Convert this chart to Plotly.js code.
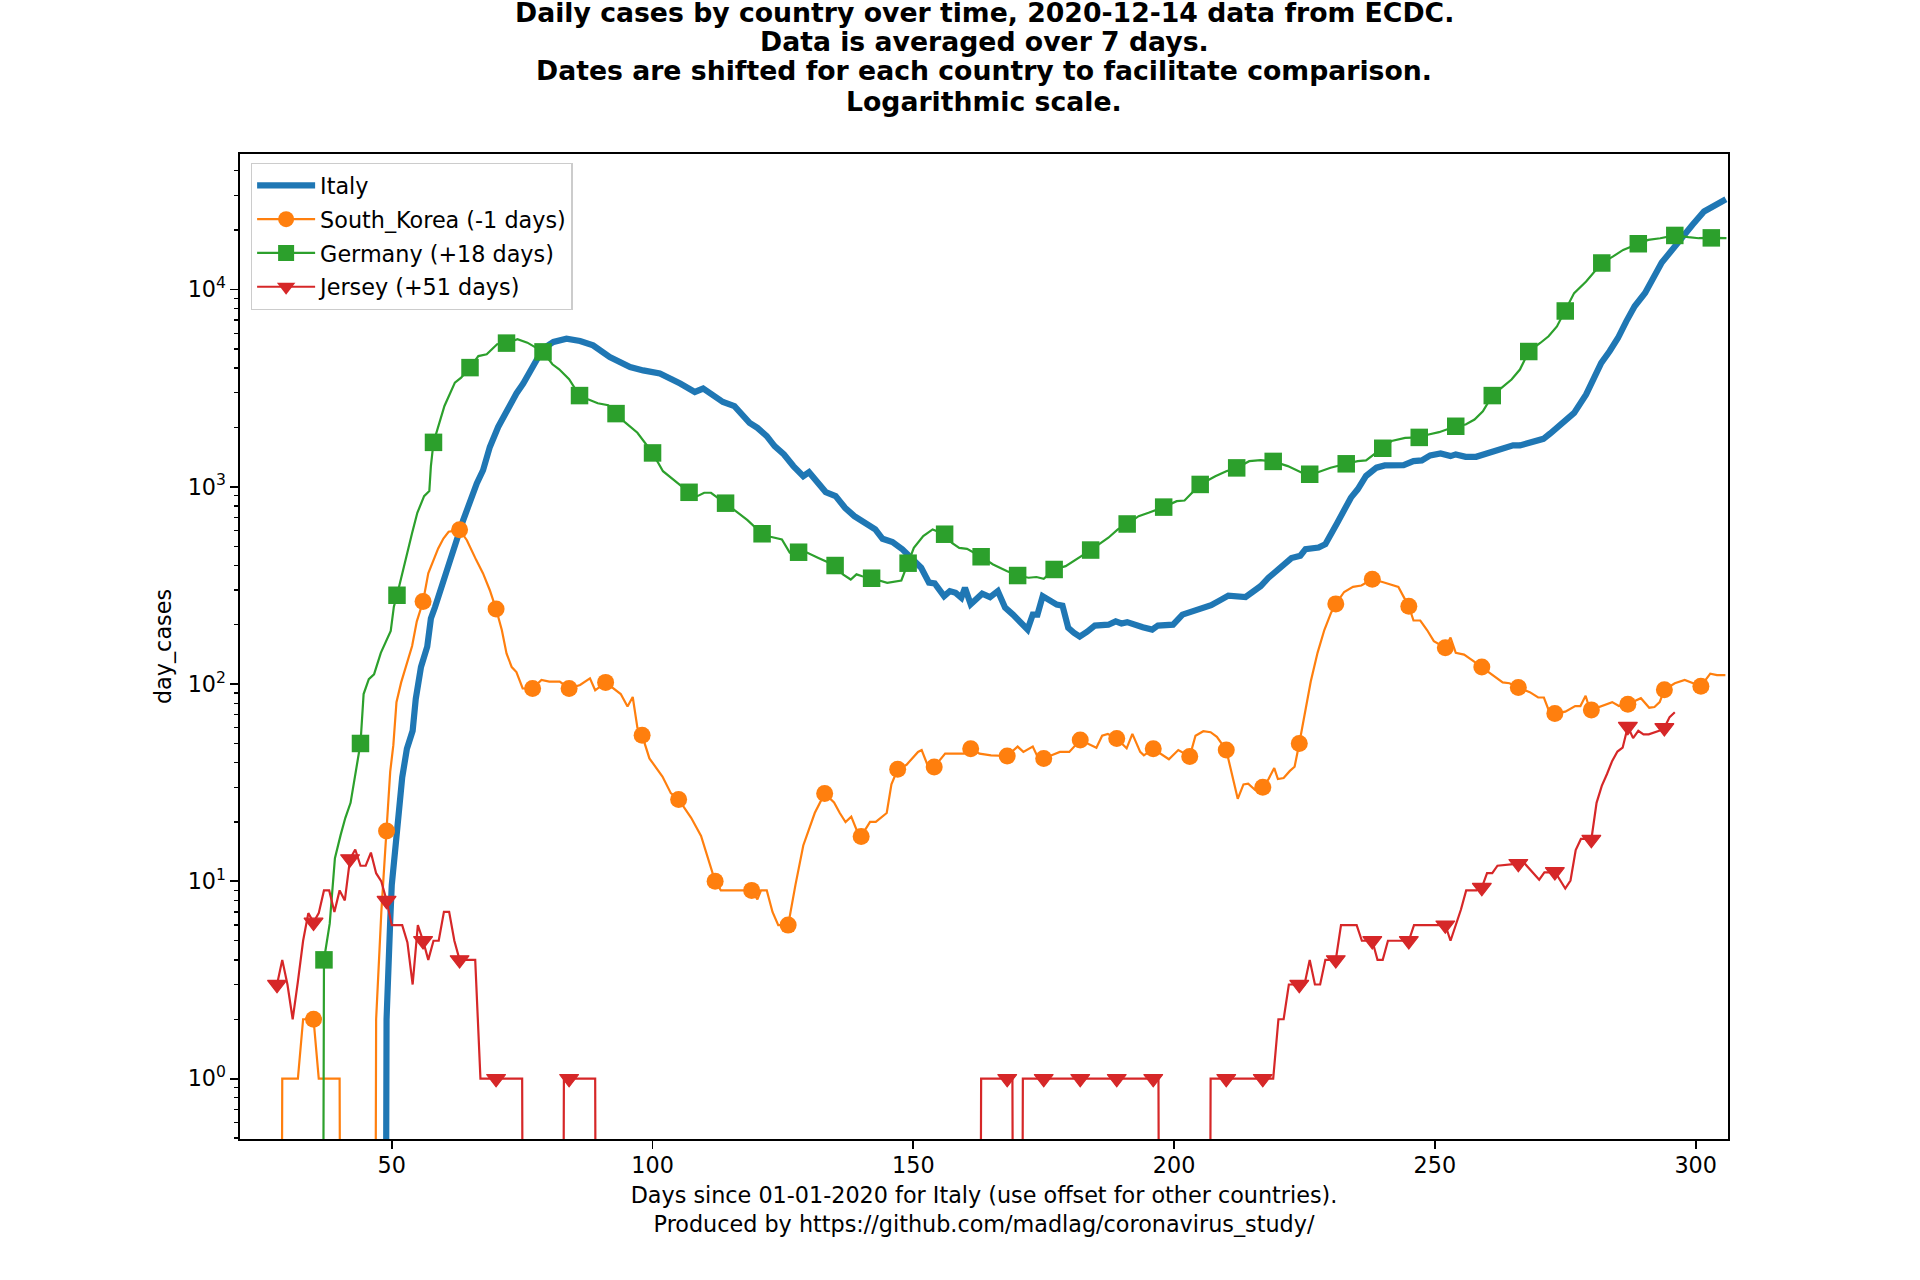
<!DOCTYPE html>
<html>
<head>
<meta charset="utf-8">
<script src="https://cdn.plot.ly/plotly-3.0.1.min.js"></script>
<style>html,body{margin:0;padding:0;background:#ffffff;}</style>
</head>
<body>
<div id="chart" style="width:1920px;height:1280px;"></div>
<script>
// ---------------- data ----------------
const titleLines = [
  "Daily cases by country over time, 2020-12-14 data from ECDC.",
  "Data is averaged over 7 days.",
  "Dates are shifted for each country to facilitate comparison.",
  "Logarithmic scale."
];
const xTitleLines = [
  "Days since 01-01-2020 for Italy (use offset for other countries).",
  "Produced by https://github.com/madlag/coronavirus_study/"
];
const yTitle = "day_cases";
const seriesNames = ["Italy", "South_Korea (-1 days)", "Germany (+18 days)", "Jersey (+51 days)"];
const xTickVals = [50, 100, 150, 200, 250, 300];
const yTickVals = [1, 10, 100, 1000, 10000];
const yTickText = ["10<sup>0</sup>", "10<sup>1</sup>", "10<sup>2</sup>", "10<sup>3</sup>", "10<sup>4</sup>"];

const italyDays = [48, 49, 49.7, 50, 50.8, 51.4, 52, 52.9, 54, 54.6,
  55.6, 56.8, 57.5, 58.3, 59.9, 61.2, 63.7, 65.3, 66.3, 67.5,
  68.8, 70.4, 71.4, 72.2, 73.9, 75.2, 76.5, 77.8, 79, 81,
  83.5, 86.1, 88.6, 91.8, 95.7, 98.2, 101.4, 105.3, 108.1, 109.7,
  111.6, 113.5, 115.7, 117.1, 118.6, 120.1, 121.9, 123.4, 125.2, 127,
  128.9, 130, 131.4, 133.2, 135.1, 136.9, 138.7, 140.6, 142.7, 144.1,
  146, 147.9, 149.7, 151.5, 153, 154.1, 155.9, 157, 158.1, 159.2,
  159.9, 161, 163.2, 164.7, 166.2, 167.6, 169.1, 170.2, 171.9, 172.9,
  173.8, 174.8, 176, 177.5, 178.6, 179.7, 180.8, 181.9, 183.3, 184.8,
  187.4, 188.8, 189.9, 191, 194, 195.8, 196.9, 199.8, 201.6, 203.5,
  205.3, 207.1, 208.6, 210.4, 213.7, 215.2, 216.6, 218.1, 219.6, 221,
  222.5, 224.2, 225.2, 227.7, 229, 231.3, 232.9, 233.9, 235.2, 236.8,
  238.8, 240.4, 244, 245.9, 247.5, 249.1, 251.1, 253, 254, 255.9,
  257.9, 259.2, 261.1, 262.4, 265, 266.3, 268.3, 270.8, 272.1, 274.1,
  276.7, 279, 280.6, 281.9, 283.5, 285.1, 286.7, 288.3, 290.3, 291.9,
  293.5, 295.5, 297.4, 299.4, 301.6, 303.3, 305.8];
const italyCases = [0, 2, 6.3, 9.6, 15.8, 24, 33.6, 47, 58, 84,
  122, 155, 215, 246, 324, 425, 678, 889, 1040, 1213,
  1592, 2011, 2259, 2443, 2972, 3337, 3822, 4467, 5012, 5420,
  5636, 5480, 5210, 4550, 4045, 3890, 3750, 3337, 3026, 3148,
  2911, 2692, 2564, 2328, 2111, 1991, 1806, 1607, 1459, 1274,
  1133, 1186, 1069, 940, 897, 783, 710, 662, 608, 545,
  525, 482, 437, 389, 327, 324, 279, 296, 290, 274,
  308, 254, 287, 276, 296, 244, 225, 208, 189, 225,
  225, 279, 266, 253, 250, 193, 182, 174, 184, 198,
  200, 208, 203, 206, 194, 189, 198, 200, 225, 234,
  241, 251, 264, 281, 276, 292, 314, 346, 374, 400,
  435, 447, 483, 492, 512, 658, 783, 881, 971, 1135,
  1250, 1283, 1288, 1350, 1361, 1442, 1476, 1431, 1460, 1419,
  1419, 1459, 1500, 1560, 1622, 1622, 1672, 1750, 1863, 2069,
  2370, 2939, 3633, 4245, 4866, 5678, 6898, 8220, 9600, 11650,
  13700, 15900, 18570, 21280, 24850, 26550, 28700];

const koreaDays = [28, 29, 32, 33, 35, 36, 40, 41, 46, 47,
  48, 49, 49.7, 50.3, 50.9, 51.8, 52.8, 53.9, 54.8, 56,
  57, 58, 58.9, 59.9, 60.9, 63, 64.4, 66.2, 67.5, 68.8,
  70, 71.1, 72, 73, 73.9, 75.1, 77, 78.7, 80.2, 82.2,
  84, 86.1, 88, 89, 91, 93.9, 95.2, 96.2, 97.1, 98,
  99.4, 101.9, 103.5, 105, 107.4, 109.3, 110.5, 112, 113.1, 116.4,
  119, 120.1, 120.8, 121.9, 123, 124.1, 126, 127.4, 128.9, 131.1,
  132.2, 133, 134.8, 135.9, 137, 138.1, 139.2, 140, 141.7, 142.8,
  144.9, 145.8, 147, 148.7, 150.9, 151.6, 152.7, 154, 156.1, 159.7,
  161, 162.7, 164.9, 168, 170, 171.1, 172.9, 173.7, 175, 178.1,
  179.9, 182, 185.1, 186.2, 187.3, 189, 190.9, 192, 193.5, 194.2,
  196, 199, 200.8, 203, 204.1, 205.6, 207, 208.2, 210, 212.2,
  213.3, 214.2, 215.5, 217, 218.1, 219.2, 219.9, 221, 222.2, 223.1,
  224, 225.2, 226.2, 227.5, 228.8, 230.1, 231, 232.6, 234.3, 235.9,
  238, 240.1, 243, 244.3, 245, 245.9, 247.2, 248.5, 249.8, 252,
  253, 254, 255.6, 257.2, 259, 261.1, 263, 264.3, 266, 268.2,
  269.8, 270.9, 271.8, 273, 275, 276.9, 277.9, 278.9, 279.5, 280,
  282.1, 284, 285.3, 287, 289.5, 291.1, 292.1, 293.1, 294, 296,
  297.9, 301, 302.8, 304.1, 305.7];
const koreaCases = [0, 1, 1, 2, 2, 1, 1, 0, 0, 2,
  7, 18, 36, 49, 81, 102, 125, 156, 208, 262,
  364, 425, 487, 547, 592, 605, 536, 425, 364, 299,
  240, 188, 143, 122, 115, 95, 95, 105, 103, 103,
  95, 99, 107, 93, 102, 89, 77, 86, 60, 55,
  42, 34, 28, 26, 21, 17, 13.4, 10, 9, 9,
  9, 8.1, 9, 9, 7, 6, 6, 9.6, 15.2, 22.2,
  25.2, 27.9, 25.1, 22.2, 20, 21.3, 18, 16.9, 20, 20,
  22.2, 31, 37, 39, 45.3, 46.3, 39, 38, 44.4, 44.4,
  47, 44.4, 43.5, 43.2, 48.2, 45.3, 48.2, 43.5, 42, 45.3,
  45.3, 52, 47.6, 54.7, 55.9, 53, 47.2, 55.9, 45.3, 43.5,
  47, 41.6, 46.3, 43, 54.7, 57.7, 57, 54, 46.3, 26.2,
  31, 31.3, 29.1, 30, 33, 37.5, 33, 33.4, 36.3, 38.1,
  50, 74, 103, 144, 188, 230, 255, 293, 311, 316,
  340, 328, 311, 268, 248, 210, 210, 188, 165, 153,
  172, 144, 141, 132, 122, 111, 102, 101, 96, 91,
  85.5, 85.5, 74, 71, 72.5, 77.4, 77.4, 87.3, 77.4, 74,
  77.4, 81, 77.4, 79, 84.8, 75.9, 76.5, 81, 93.5, 101,
  105, 97.5, 113, 111, 111];

const germanyDays = [36, 37, 38.1, 39.1, 40.2, 41.1, 42.1, 43, 44, 44.6,
  45.6, 46.6, 47.9, 49.8, 50.4, 51, 52.3, 53.9, 54.9, 56.2,
  57.2, 57.5, 58, 59.1, 60.1, 62.1, 63.3, 65, 66.6, 68.2,
  70.2, 72, 74.1, 76, 79, 80.8, 82.1, 84, 86, 87.6,
  89.5, 91.5, 93, 94.8, 97.1, 100, 102, 104.3, 107, 108.6,
  109.9, 111.2, 114, 116.4, 118.2, 120.1, 121, 122.6, 124.8, 126.3,
  128, 129.6, 131.8, 135, 136.5, 138, 139.1, 140.2, 142, 145,
  147.7, 149, 150.1, 151.9, 153.7, 156, 157.4, 158.8, 160.3, 163,
  165.3, 167.9, 170, 172.1, 173.6, 175, 177, 179.2, 181.8, 184,
  187.4, 189.2, 191, 193.2, 195.1, 198, 200.5, 202, 205, 207.9,
  210, 212, 214.4, 216.6, 219, 221.8, 224.5, 226, 227.7, 230,
  233, 235.2, 236.8, 240, 241.7, 244.3, 247, 248.8, 250.8, 254,
  255.9, 257.6, 259.2, 261, 262.7, 264.7, 266.3, 268, 270.2, 271.8,
  273.4, 275, 276.7, 279, 280.6, 282, 284.1, 286.1, 289, 290.9,
  293.2, 296, 298.6, 300.6, 303, 305.9];
const germanyCases = [0, 4, 6.1, 13.1, 17.2, 21, 25, 35, 50, 89,
  106, 112, 144, 186, 247, 282, 395, 584, 738, 897,
  951, 1274, 1680, 2113, 2570, 3375, 3575, 4020, 4600, 4700,
  5280, 5350, 5600, 5380, 4830, 4180, 3940, 3510, 2900, 2775,
  2650, 2590, 2350, 2113, 1880, 1485, 1200, 1070, 938, 897,
  933, 933, 826, 738, 678, 608, 578, 558, 541, 464,
  466, 464, 436, 399, 360, 339, 360, 352, 344, 326,
  335, 410, 490, 562, 608, 575, 520, 490, 485, 442,
  404, 374, 355, 346, 349, 342, 381, 396, 437, 478,
  552, 608, 648, 710, 738, 789, 846, 852, 1028, 1132,
  1200, 1247, 1349, 1364, 1345, 1273, 1178, 1158, 1189, 1250,
  1308, 1350, 1360, 1568, 1706, 1770, 1780, 1841, 1892, 2027,
  2070, 2194, 2415, 2900, 3171, 3497, 3929, 4850, 5358, 5791,
  6500, 7785, 9590, 10990, 12350, 13630, 14690, 15880, 17065, 17850,
  18200, 18800, 18420, 18200, 18275, 18200];

const jerseyDays = [28, 29, 30, 31, 32, 33, 34, 35, 36, 37,
  38, 39, 40, 41, 42, 43, 44, 45, 46, 47,
  48, 49, 50, 52, 53, 54, 55, 56, 57, 58,
  59, 60, 61, 62, 63, 64, 66, 67, 70, 75,
  76, 82, 83, 84, 89, 90, 162, 163, 168, 169,
  170, 171, 175, 182, 189, 196, 197, 198, 206, 207,
  210, 217, 219, 220, 221, 222, 224, 225, 226, 227,
  228, 229, 231, 232, 235, 236, 238, 239, 240, 241,
  243, 245, 246, 252, 253, 254, 255, 256, 258, 259,
  260, 261, 262, 266, 267, 270, 271, 272, 273, 275,
  276, 277, 278, 279, 280, 281, 282, 283, 284, 285,
  286, 287, 288, 289, 290, 291, 293, 294, 295, 296];
const jerseyCases = [3, 4, 3, 2, 3.1, 5, 6.9, 6.2, 6.9, 9,
  9, 7, 9, 8, 13, 14.5, 12, 12, 14, 11,
  10, 8, 6, 6, 4.9, 3, 6, 5, 4, 5,
  5, 7, 7, 5, 4, 4, 4, 1, 1, 1,
  0, 0, 1, 1, 1, 0, 0, 1, 1, 1,
  0, 1, 1, 1, 1, 1, 1, 0, 0, 1,
  1, 1, 1, 2, 2, 3, 3, 3, 4, 3,
  3, 4, 4, 6, 6, 5, 5, 4, 4, 5,
  5, 5, 6, 6, 5, 6, 7.2, 9, 9, 9.3,
  11, 11, 12, 12.3, 12.5, 10.2, 11.1, 11.1, 11.2, 9.2,
  10.1, 14.4, 16.4, 16.4, 16.3, 25, 30.5, 35, 40.8, 45.5,
  47.6, 61, 53.2, 58, 55.6, 55.6, 58, 60, 68, 72];

// first day of each series' 7-day marker cycle
const markerStart = {korea: 28, germany: 30, jersey: 28};

// ---------------- helpers ----------------
// like matplotlib's log "clip": zero days are drawn far below the axis
function clipZero(arr) { return arr.map(v => (v > 0 ? v : 1e-9)); }
function markerPoints(days, cases, start) {
  const mx = [], my = [];
  days.forEach((d, i) => {
    if (Number.isInteger(d) && d >= start && (d - start) % 7 === 0 && cases[i] > 0) {
      mx.push(d); my.push(cases[i]);
    }
  });
  return {x: mx, y: my};
}
const minorTicks = [];
for (let e = -1; e <= 4; e++) {
  for (let m = 2; m <= 9; m++) {
    const v = m * Math.pow(10, e);
    if (v >= 0.49 && v <= 48000) minorTicks.push(v);
  }
}

const C = {blue: "#1f77b4", orange: "#ff7f0e", green: "#2ca02c", red: "#d62728"};
const FONT = "DejaVu Sans";
const FS = 22.3;      // tick / legend / axis-title size
const TITLE_FS = 26.7;

const kM = markerPoints(koreaDays, koreaCases, markerStart.korea);
const gM = markerPoints(germanyDays, germanyCases, markerStart.germany);
const jM = markerPoints(jerseyDays, jerseyCases, markerStart.jersey);

const traces = [
  {x: italyDays, y: clipZero(italyCases), mode: "lines", name: seriesNames[0], legendgroup: "it",
   line: {color: C.blue, width: 6.2}, showlegend: true, hoverinfo: "skip"},

  {x: koreaDays, y: clipZero(koreaCases), mode: "lines", legendgroup: "kr", showlegend: false,
   line: {color: C.orange, width: 2.2}, hoverinfo: "skip"},
  {x: kM.x, y: kM.y, mode: "markers", legendgroup: "kr", showlegend: false,
   marker: {symbol: "circle", size: 17, color: C.orange}, hoverinfo: "skip"},
  {x: [null], y: [null], mode: "lines+markers", name: seriesNames[1], legendgroup: "kr", showlegend: true,
   line: {color: C.orange, width: 2.2}, marker: {symbol: "circle", size: 16, color: C.orange}},

  {x: germanyDays, y: clipZero(germanyCases), mode: "lines", legendgroup: "de", showlegend: false,
   line: {color: C.green, width: 2.2}, hoverinfo: "skip"},
  {x: gM.x, y: gM.y, mode: "markers", legendgroup: "de", showlegend: false,
   marker: {symbol: "square", size: 17.5, color: C.green}, hoverinfo: "skip"},
  {x: [null], y: [null], mode: "lines+markers", name: seriesNames[2], legendgroup: "de", showlegend: true,
   line: {color: C.green, width: 2.2}, marker: {symbol: "square", size: 16, color: C.green}},

  {x: jerseyDays, y: clipZero(jerseyCases), mode: "lines", legendgroup: "je", showlegend: false,
   line: {color: C.red, width: 2.2}, hoverinfo: "skip"},
  {x: jM.x, y: jM.y, mode: "markers", legendgroup: "je", showlegend: false,
   marker: {symbol: "triangle-down", size: 16.5, color: C.red, line: {color: C.red, width: 1.2}}, hoverinfo: "skip"},
  {x: [null], y: [null], mode: "lines+markers", name: seriesNames[3], legendgroup: "je", showlegend: true,
   line: {color: C.red, width: 2.2}, marker: {symbol: "triangle-down", size: 16, color: C.red}}
];

const axisCommon = {
  ticks: "outside", ticklen: 7.8, tickwidth: 1.8, tickcolor: "#000",
  showline: true, linecolor: "#000", linewidth: 1.8, mirror: true,
  showgrid: false, zeroline: false,
  tickfont: {family: FONT, size: FS, color: "#000"}
};

// title lines: centre of each line in pixels from the top of the figure
const PLOT_TOP = 154, PLOT_BOTTOM = 1139;
const titleCentres = [12, 41.5, 71, 101];
const annotations = titleLines.map((t, i) => ({
  text: t, xref: "paper", yref: "paper", x: 0.5, xanchor: "center",
  y: (PLOT_BOTTOM - titleCentres[i]) / (PLOT_BOTTOM - PLOT_TOP), yanchor: "middle",
  showarrow: false, font: {family: FONT, size: TITLE_FS, weight: "bold", color: "#000"}
}));

const layout = {
  width: 1920, height: 1280,
  paper_bgcolor: "#ffffff", plot_bgcolor: "#ffffff",
  font: {family: FONT, size: FS, color: "#000"},
  margin: {l: 240, r: 192, t: PLOT_TOP, b: 1280 - PLOT_BOTTOM, pad: 0},
  annotations: annotations,
  xaxis: Object.assign({}, axisCommon, {
    range: [20.9, 306.2], tickmode: "array", tickvals: xTickVals, ticklabelstandoff: -2,
    title: {text: xTitleLines.join("<br>"), font: {family: FONT, size: FS, color: "#000"}, standoff: 10}
  }),
  yaxis: Object.assign({}, axisCommon, {
    type: "log", range: [-0.306, 4.687],
    tickmode: "array", tickvals: yTickVals, ticktext: yTickText,
    minor: {tickmode: "array", tickvals: minorTicks, ticks: "outside", ticklen: 4.4, tickwidth: 1.3,
            tickcolor: "#000", showgrid: false},
    title: {text: yTitle, font: {family: FONT, size: FS, color: "#000"}, standoff: 10}
  }),
  showlegend: true,
  legend: {
    x: 0.0072, y: 0.9909, xanchor: "left", yanchor: "top",
    bgcolor: "rgba(255,255,255,0.8)", bordercolor: "#cccccc", borderwidth: 1.4,
    font: {family: FONT, size: FS, color: "#000"},
    tracegroupgap: 1.8, itemwidth: 58, traceorder: "grouped"
  }
};

Plotly.newPlot("chart", traces, layout, {displayModeBar: false, staticPlot: true});
</script>
</body>
</html>
